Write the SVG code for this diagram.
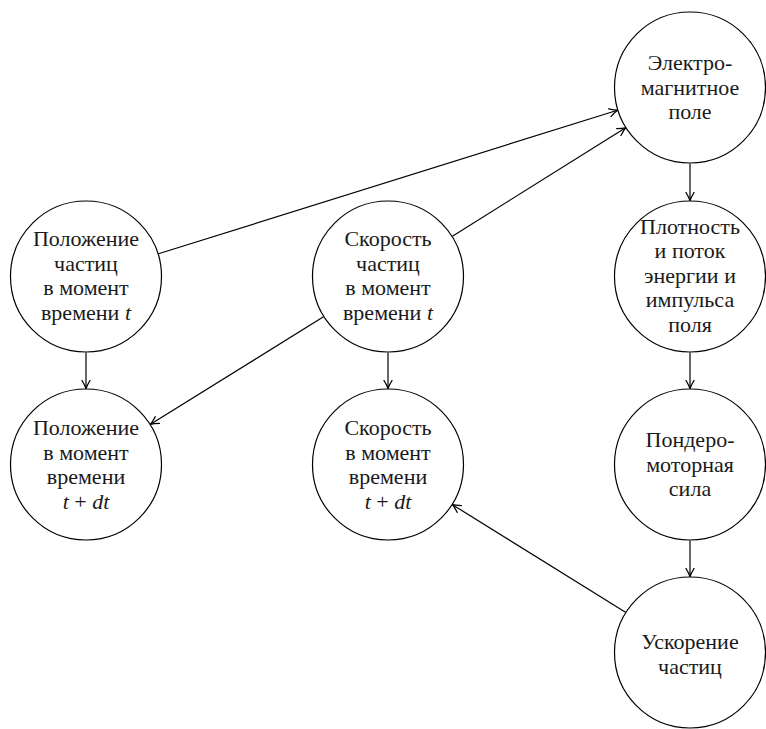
<svg xmlns="http://www.w3.org/2000/svg" width="766" height="729" viewBox="0 0 766 729">
<style>
.n{fill:#fff;stroke:#000;stroke-width:1.2}
.t{font-family:"Liberation Serif","DejaVu Serif",serif;font-size:22px;fill:#1a1a1a;text-anchor:middle}
.i{font-style:italic}
.e{fill:none;stroke:#000;stroke-width:1.2;marker-end:url(#ah)}
</style>
<defs>
<marker id="ah" viewBox="-9 -5 11 10" markerWidth="11" markerHeight="10" refX="0" refY="0" orient="auto" markerUnits="userSpaceOnUse">
<path d="M-8,-4 Q-3,-1 0,0 Q-3,1 -8,4" fill="none" stroke="#000" stroke-width="1.3" stroke-linecap="round"/>
</marker>
</defs>
<rect width="766" height="729" fill="#fff"/>
<g id="connectors">
<path class="e" d="M158.5,253.8 L617.5,110.2"/>
<path class="e" d="M452.4,236.2 L625.6,127.8"/>
<path class="e" d="M690,163.5 L690,200.5"/>
<path class="e" d="M86,352.5 L86,388.5"/>
<path class="e" d="M388,352.5 L388,388.5"/>
<path class="e" d="M323.5,316.7 L150.5,424.3"/>
<path class="e" d="M690,352.5 L690,388.5"/>
<path class="e" d="M690,540.5 L690,576.5"/>
<path class="e" d="M625.5,612.3 L452.5,504.7"/>
</g>
<g id="em-field">
<circle class="n" cx="690" cy="87.5" r="75.5"/>
<text class="t" x="690" y="70">Электро-</text>
<text class="t" x="690" y="94.5">магнитное</text>
<text class="t" x="690" y="119">поле</text>
</g>
<g id="pos-t">
<circle class="n" cx="86" cy="276.5" r="75.5"/>
<text class="t" x="86" y="246">Положение</text>
<text class="t" x="86" y="270.5">частиц</text>
<text class="t" x="86" y="295">в момент</text>
<text class="t" x="86" y="319.5">времени <tspan class="i">t</tspan></text>
</g>
<g id="vel-t">
<circle class="n" cx="388" cy="276.5" r="75.5"/>
<text class="t" x="388" y="246">Скорость</text>
<text class="t" x="388" y="270.5">частиц</text>
<text class="t" x="388" y="295">в момент</text>
<text class="t" x="388" y="319.5">времени <tspan class="i">t</tspan></text>
</g>
<g id="density">
<circle class="n" cx="690" cy="276.5" r="75.5"/>
<text class="t" x="690" y="233.5">Плотность</text>
<text class="t" x="690" y="258">и поток</text>
<text class="t" x="690" y="282.5">энергии и</text>
<text class="t" x="690" y="307">импульса</text>
<text class="t" x="690" y="331.5">поля</text>
</g>
<g id="pos-tdt">
<circle class="n" cx="86" cy="464.5" r="75.5"/>
<text class="t" x="86" y="435">Положение</text>
<text class="t" x="86" y="459.5">в момент</text>
<text class="t" x="86" y="484">времени</text>
<text class="t" x="86" y="508.5"><tspan class="i">t</tspan> + <tspan class="i">dt</tspan></text>
</g>
<g id="vel-tdt">
<circle class="n" cx="388" cy="464.5" r="75.5"/>
<text class="t" x="388" y="435">Скорость</text>
<text class="t" x="388" y="459.5">в момент</text>
<text class="t" x="388" y="484">времени</text>
<text class="t" x="388" y="508.5"><tspan class="i">t</tspan> + <tspan class="i">dt</tspan></text>
</g>
<g id="ponder">
<circle class="n" cx="690" cy="464.5" r="75.5"/>
<text class="t" x="690" y="447">Пондеро-</text>
<text class="t" x="690" y="471.5">моторная</text>
<text class="t" x="690" y="496">сила</text>
</g>
<g id="accel">
<circle class="n" cx="690" cy="652.5" r="75.5"/>
<text class="t" x="690" y="649">Ускорение</text>
<text class="t" x="690" y="673.5">частиц</text>
</g>
</svg>
